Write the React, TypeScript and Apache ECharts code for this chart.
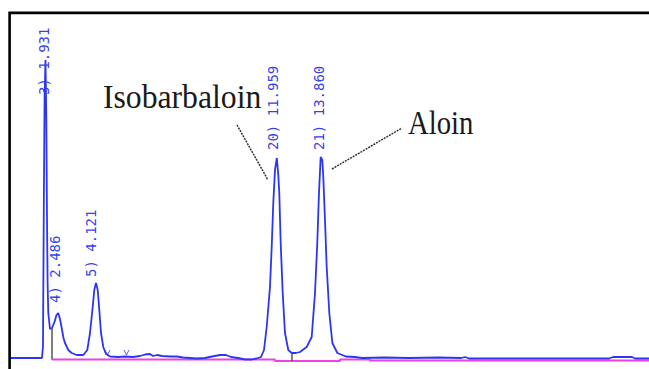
import React, { useEffect, useRef } from "react";
import * as echarts from "echarts";

// Chromatogram trace (time in min, signal height above baseline)
const signalTime = [
  0.393, 1.78, 1.823, 1.858, 1.893, 1.931, 1.967, 1.997, 2.023, 2.053, 2.127, 2.214,
  2.322, 2.409, 2.486, 2.56, 2.634, 2.712, 2.777, 2.92, 3.068, 3.284, 3.57, 3.744,
  3.861, 3.978, 4.047, 4.121, 4.195, 4.264, 4.338, 4.437, 4.554, 4.728, 5.075, 5.378,
  5.725, 6.028, 6.245, 6.462, 6.592, 6.765, 6.985, 7.329, 7.632, 7.892, 8.195, 8.499,
  8.846, 9.149, 9.496, 9.756, 9.973, 10.276, 10.583, 10.885, 11.143, 11.273, 11.403,
  11.52, 11.663, 11.737, 11.806, 11.88, 11.959, 12.023, 12.066, 12.127, 12.214, 12.313,
  12.456, 12.604, 12.79, 12.964, 13.254, 13.471, 13.614, 13.713, 13.787, 13.86, 13.93,
  13.973, 14.047, 14.121, 14.234, 14.367, 14.584, 14.948, 15.348, 15.651, 16.608,
  17.692, 18.993, 19.945, 20.118, 20.292, 22.5, 24.627, 26.361, 26.535, 27.355,
  27.488, 28.092,
];
const signalHeight = [
  0, 0, 12, 150, 262, 298, 240, 140, 75, 45, 29, 30,
  36, 43, 45, 39, 30, 20, 15, 8, 5, 3, 3, 8,
  25, 51, 68, 75, 68, 48, 25, 11, 4, 1.5, 1, 1.5,
  1, 2, 3.5, 4, 2, 3, 2, 1.5, 1.5, 0.5, 0, -0.5,
  0, 1.5, 3, 3, 1, 0, -1.5, -1.5, 0, 1, 8,
  31, 71, 111, 155, 188, 200, 183, 165, 115, 65, 25,
  8, 5, 5, 6, 11, 21, 65, 115, 165, 201, 198,
  181, 138, 91, 45, 15, 5, 1.5, 1, 0, 0.5,
  0, 0.5, 0, 1, -0.5, -0.5, -0.5, -0.5, 1, 1,
  -0.5, -0.5,
];

// Integration baseline
const baselineTime = [2.214, 11.88, 11.88, 14.7, 14.7, 16.0, 16.0, 28.092];
const baselineHeight = [-1.5, -1.5, -3, -3, -1.5, -1.5, -2.5, -2.5];

// Peak drop lines
const dropTime = [2.214, 12.604];
const dropBottom = [-1.5, -3];
const dropTop = [30, 5];

// Peaks
const peakTime = [1.931, 2.486, 4.121, 11.959, 13.86];
const peakHeight = [298, 45, 75, 200, 201];
const peakLabel = ["3) 1.931", "4) 2.486", "5) 4.121", "20) 11.959", "21) 13.860"];

// small "v" event marks
const markerTime = [4.619, 5.443];
const markerHeight = [5.5, 5.5];

const compoundNames = ["Isobarbaloin", "Aloin"];

// styling (pixels)
const labelDx = [-1.5, -3, -5, -4, -2];
const labelDy = [-35, 10, 6, 8, 7];
const namePos = [
  [103, 97],
  [408, 123],
];
const nameScaleX = [0.96, 0.87];
const leaderLines = [
  [
    [237, 125],
    [268, 180],
  ],
  [
    [332, 169],
    [402, 128],
  ],
];

const BLUE = "#2c36f2";
const MAGENTA = "#f040e6";

export default function App() {
  const ref = useRef<HTMLDivElement>(null);

  useEffect(() => {
    if (!ref.current) return;
    const chart = echarts.init(ref.current, undefined, { renderer: "svg" });
    chart.setOption({
      animation: false,
      backgroundColor: "#ffffff",
      grid: { left: 11, right: 0, top: 14, bottom: 0, containLabel: false },
      xAxis: {
        type: "value",
        min: 0.4365,
        max: 28.092,
        show: false,
        splitLine: { show: false },
      },
      yAxis: {
        type: "value",
        min: -11,
        max: 344,
        show: false,
        splitLine: { show: false },
      },
      series: [
        {
          type: "line",
          name: "baseline",
          data: baselineTime.map((t, i) => [t, baselineHeight[i]]),
          showSymbol: false,
          symbol: "none",
          lineStyle: { color: MAGENTA, width: 2.2 },
          z: 2,
          markLine: {
            silent: true,
            symbol: "none",
            label: { show: false },
            lineStyle: { color: "#555555", width: 1.5, type: "solid" },
            data: dropTime.map((t, i) => [
              { coord: [t, dropBottom[i]] },
              { coord: [t, dropTop[i]] },
            ]),
          },
        },
        {
          type: "line",
          name: "signal",
          data: signalTime.map((t, i) => [t, signalHeight[i]]),
          showSymbol: false,
          symbol: "none",
          lineStyle: { color: BLUE, width: 1.8 },
          z: 3,
        },
        {
          type: "scatter",
          name: "events",
          data: markerTime.map((t, i) => [t, markerHeight[i]]),
          symbol: "path://M0 0 L4 7 L8 0",
          symbolSize: [5, 5],
          itemStyle: { color: "none", borderColor: BLUE, borderWidth: 1 },
          z: 4,
        },
      ],
    });

    const labels = peakTime.map((t, i) => {
      const p = chart.convertToPixel({ gridIndex: 0 }, [t, peakHeight[i]]) as number[];
      return {
        type: "text",
        x: p[0] + labelDx[i],
        y: p[1] - labelDy[i],
        rotation: Math.PI / 2,
        z: 10,
        style: {
          text: peakLabel[i],
          fill: "#3442ee",
          font: '14px "DejaVu Sans Mono"',
          align: "left",
          verticalAlign: "middle",
        },
      };
    });

    const names = compoundNames.map((n, i) => ({
      type: "text",
      x: namePos[i][0],
      y: namePos[i][1],
      scaleX: nameScaleX[i],
      z: 10,
      style: {
        text: n,
        fill: "#1a1a1a",
        font: '33px "Liberation Serif"',
        align: "left",
        verticalAlign: "middle",
      },
    }));

    const leaders = leaderLines.map((l) => ({
      type: "line",
      z: 9,
      shape: { x1: l[0][0], y1: l[0][1], x2: l[1][0], y2: l[1][1] },
      style: { stroke: "#333333", lineWidth: 1.5, lineDash: [2, 1] },
    }));

    const frame = {
      type: "polyline",
      z: 20,
      shape: {
        points: [
          [9.6, 369],
          [9.6, 12.9],
          [649, 12.9],
        ],
      },
      style: { stroke: "#000000", lineWidth: 2.6, fill: "none" },
    };

    chart.setOption({ graphic: [frame, ...leaders, ...names, ...labels] });

    return () => chart.dispose();
  }, []);

  return (
    <div
      ref={ref}
      style={{ position: "absolute", left: 0, top: 0, width: 649, height: 369, background: "#fff" }}
    />
  );
}
